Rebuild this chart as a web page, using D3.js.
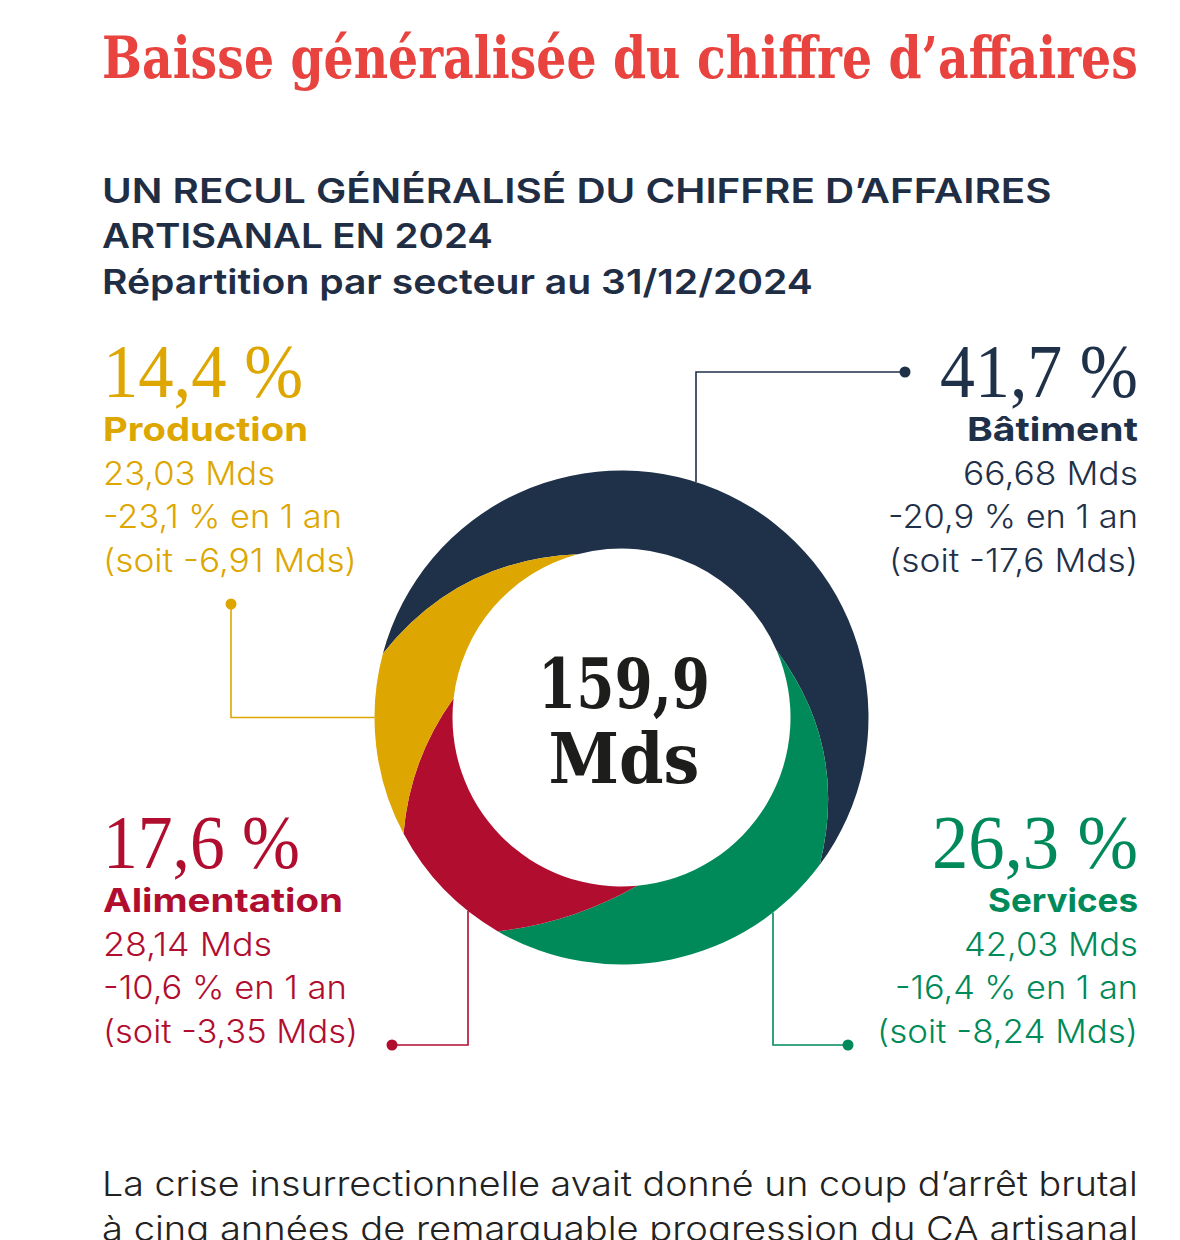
<!DOCTYPE html>
<html>
<head>
<meta charset="utf-8">
<script src="https://cdn.jsdelivr.net/npm/d3@7"></script>
<style>
  html, body { margin: 0; padding: 0; background: #ffffff; }
  svg { display: block; }
</style>
</head>
<body>
<script>
// ---------------- DATA ----------------
const sectors = ["Bâtiment", "Services", "Alimentation", "Production"];
const shares = [41.7, 26.3, 17.6, 14.4];            // % of turnover
const amounts = [66.68, 42.03, 28.14, 23.03];       // Mds
const changePct = [-20.9, -16.4, -10.6, -23.1];     // % in 1 year
const changeAbs = [-17.6, -8.24, -3.35, -6.91];     // Mds
const totalAmount = 159.9;
const sectorColors = ["#1F3049", "#008A5A", "#B00D2F", "#DDA600"];

const titleText = "Baisse généralisée du chiffre d’affaires";
const subtitleLines = ["UN RECUL GÉNÉRALISÉ DU CHIFFRE D’AFFAIRES", "ARTISANAL EN 2024", "Répartition par secteur au 31/12/2024"];
const bodyLines = ["La crise insurrectionnelle avait donné un coup d’arrêt brutal", "à cinq années de remarquable progression du CA artisanal"];

// ---------------- LAYOUT ----------------
const W = 1180, H = 1240;
const cx = 621.5, cy = 717.5, R = 247, r = 169;
const startDeg = -49;
// per boundary (yellow|navy, navy|green, green|red, red|yellow): inner / outer angular skew (deg) and bulge (px)
const skew = [[34, -26, 25], [-34.6, 25.5, 26], [-21.1, 14.2, 7.5], [17.4, -17.2, 10]];

const SANS = "Inter, 'Noto Sans', sans-serif";
const SLAB = "'DejaVu Serif', serif";
const LIGHTSERIF = "'Liberation Serif', serif";

const fr = d3.formatLocale({decimal: ",", thousands: "\u202f", grouping: [3], currency: ["", " €"], minus: "-"});
const num = fr.format("");

const svg = d3.select("body").append("svg").attr("width", W).attr("height", H);

// place a text so that it spans exactly [left, left+width] (horizontal scaling)
function placeText(x, y, width, anchorEnd, txt, fam, wt, fs, fill) {
  const g = svg.append("g");
  const t = g.append("text").attr("x", 0).attr("y", 0)
    .attr("font-family", fam).attr("font-weight", wt).attr("font-size", fs)
    .attr("fill", fill).text(txt);
  const n = t.node().getComputedTextLength();
  const s = width / n;
  const left = anchorEnd ? x - width : x;
  g.attr("transform", `translate(${left},${y}) scale(${s},1)`);
  return g;
}

// Title
placeText(102, 78, 1036, false, titleText, SLAB, 700, 58, "#E8433F");

// Subtitle
const subW = [950, 391, 711];
const subY = [203, 248, 294];
subtitleLines.forEach((t, i) => placeText(102, subY[i], subW[i], false, t, SANS, 600, 34, "#1F2E45"));

// ---------------- DONUT ----------------
const pie = d3.pie().sort(null).value(d => d)
  .startAngle(startDeg * Math.PI / 180).endAngle(startDeg * Math.PI / 180 + 2 * Math.PI);
const arcs = pie(shares);
const rad = d => d * Math.PI / 180;
const pt = (a, rho) => [cx + rho * Math.sin(a), cy - rho * Math.cos(a)];

const bounds = arcs.map((a, i) => {
  const base = a.startAngle;
  const ai = base + rad(skew[i][0]);
  const ao = base + rad(skew[i][1]);
  const P = pt(ai, r), Q = pt(ao, R);
  const mx = (P[0] + Q[0]) / 2, my = (P[1] + Q[1]) / 2;
  let nx = -(Q[1] - P[1]), ny = Q[0] - P[0];
  const len = Math.hypot(nx, ny); nx /= len; ny /= len;
  if (nx * (mx - cx) + ny * (my - cy) < 0) { nx = -nx; ny = -ny; }
  const C = [mx + nx * 2 * skew[i][2], my + ny * 2 * skew[i][2]];
  return {ai, ao, P, Q, C};
});

const donut = svg.append("g");
arcs.forEach((a, i) => {
  const b0 = bounds[i], b1 = bounds[(i + 1) % arcs.length];
  const p = d3.path();
  p.moveTo(b0.Q[0], b0.Q[1]);
  p.arc(cx, cy, R, b0.ao - Math.PI / 2, b1.ao - Math.PI / 2, false);
  p.quadraticCurveTo(b1.C[0], b1.C[1], b1.P[0], b1.P[1]);
  p.arc(cx, cy, r, b1.ai - Math.PI / 2, b0.ai - Math.PI / 2, true);
  p.quadraticCurveTo(b0.C[0], b0.C[1], b0.Q[0], b0.Q[1]);
  p.closePath();
  donut.append("path").attr("d", p.toString()).attr("fill", sectorColors[i]);
});

// Center total
const totalParts = [num(totalAmount), "Mds"];
const centerY = [708, 783], centerW = [172, 151];
totalParts.forEach((t, i) => {
  placeText(cx + 2.5 - centerW[i] / 2, centerY[i], centerW[i], false, t, SLAB, 700, 70, "#1D1D1B");
});

// ---------------- LEADERS ----------------
const edgeY = (x, dir) => cy + dir * Math.sqrt(R * R - (x - cx) * (x - cx));
const edgeX = (y, dir) => cx + dir * Math.sqrt(R * R - (y - cy) * (y - cy));
const leaders = [
  [[696, edgeY(696, -1)], [696, 372], [905, 372]],
  [[773, edgeY(773, 1)], [773, 1045], [848, 1045]],
  [[468, edgeY(468, 1)], [468, 1045], [392, 1045]],
  [[edgeX(cy, -1), cy], [231, cy], [231, 604]]
];
leaders.forEach((pts, i) => {
  svg.append("path").attr("d", d3.line()(pts)).attr("fill", "none")
    .attr("stroke", sectorColors[i]).attr("stroke-width", 1.6);
  const end = pts[pts.length - 1];
  svg.append("circle").attr("cx", end[0]).attr("cy", end[1]).attr("r", 5.5).attr("fill", sectorColors[i]);
});

// ---------------- LABEL BLOCKS ----------------
const blocks = [
  {x: 1138, end: true, y: 397, w: [198, 171, 175, 250, 249]},
  {x: 1138, end: true, y: 868, w: [206, 150, 174, 243, 261]},
  {x: 103, end: false, y: 868, w: [197, 240, 169, 244, 255]},
  {x: 103, end: false, y: 397, w: [200, 205, 172, 239, 254]}
];
const lineDy = [0, 44, 88, 131, 175];
sectors.forEach((s, i) => {
  const b = blocks[i];
  const lines = [
    {t: num(shares[i]) + " %", fam: LIGHTSERIF, wt: 400, fs: 76},
    {t: s, fam: SANS, wt: 700, fs: 33},
    {t: num(amounts[i]) + " Mds", fam: SANS, wt: 300, fs: 32},
    {t: num(changePct[i]) + " % en 1 an", fam: SANS, wt: 300, fs: 32},
    {t: "(soit " + num(changeAbs[i]) + " Mds)", fam: SANS, wt: 300, fs: 32}
  ];
  lines.forEach((L, j) => placeText(b.x, b.y + lineDy[j], b.w[j], b.end, L.t, L.fam, L.wt, L.fs, sectorColors[i]));
});

// ---------------- BODY TEXT ----------------
const bodyY = [1196, 1241];
bodyLines.forEach((t, i) => placeText(102, bodyY[i], 1036, false, t, SANS, 300, 34, "#222222"));
</script>
</body>
</html>
